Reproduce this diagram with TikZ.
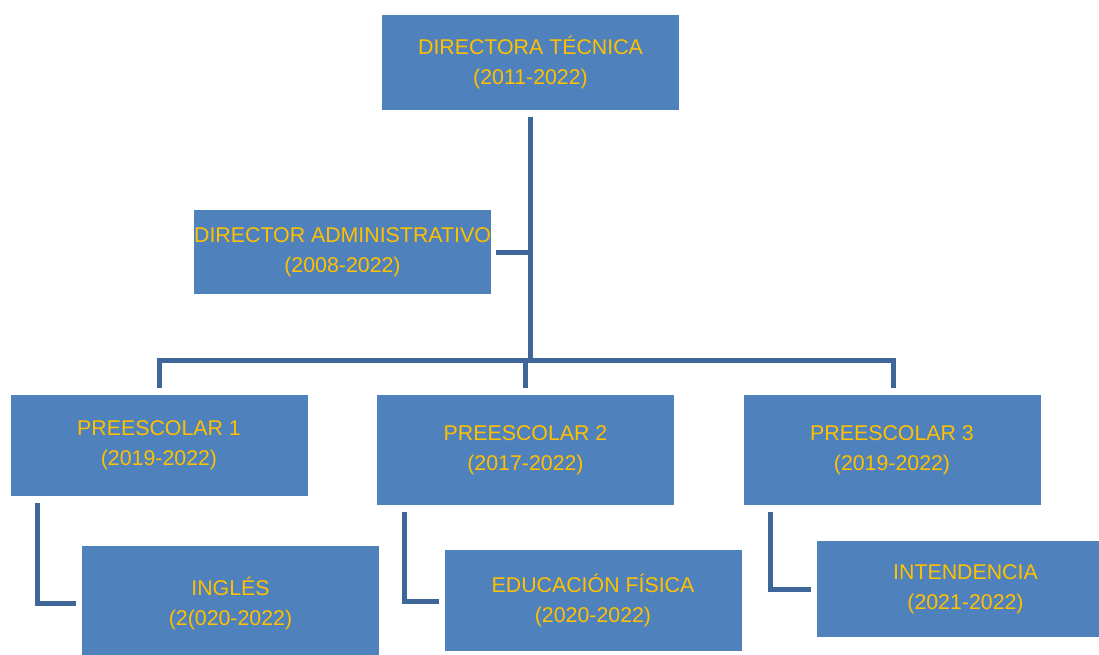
\documentclass[tikz,border=0pt]{standalone}
\usepackage{fontspec}
\setmainfont{Liberation Sans}
\usepackage{tikz}

\definecolor{boxblue}{HTML}{4F81BD}
\definecolor{linkblue}{HTML}{3E6699}
\definecolor{labelgold}{HTML}{FFC000}

\begin{document}
\begin{tikzpicture}[x=0.75pt,y=-0.75pt]  % one unit = one pixel of the reference
    % Styles for the boxes and the links
    \tikzset{
        post/.style={fill=boxblue, draw=none, minimum width=297*0.75pt, text=labelgold,
            align=center, font=\fontsize{16}{22.5}\selectfont, inner sep=0pt},
        link/.style={draw=linkblue, line width=3.75pt}
    }
    \useasboundingbox (0,0) rectangle (1099,654);

    % Boxes of the chart
    \node[post, minimum height=95*0.75pt] (direc) at (530.5,62.5) {DIRECTORA TÉCNICA\\(2011-2022)};  % top
    \node[post, minimum height=84*0.75pt] (admin) at (342.5,252) {DIRECTOR ADMINISTRATIVO\\(2008-2022)};
    \node[post, minimum height=101*0.75pt] (pre1) at (159,445.5) {PREESCOLAR 1\\(2019-2022)};
    \node[post, minimum height=110*0.75pt] (pre2) at (525.5,450) {PREESCOLAR 2\\(2017-2022)};
    \node[post, minimum height=110*0.75pt] (pre3) at (892,450) {PREESCOLAR 3\\(2019-2022)};
    \node[post, minimum height=115*0.75pt] (ingles) at (230.5,603.5) {INGLÉS\\(2(020-2022)};
    \node[post, minimum height=101*0.75pt] (edfis) at (593,600.5) {EDUCACIÓN FÍSICA\\(2020-2022)};
    \node[post, minimum height=96*0.75pt] (inten) at (965.5,589) {INTENDENCIA\\(2021-2022)};

    % Junctions of the links
    \coordinate (trunk) at (530.5,360);     % foot of the main line
    \coordinate (side) at (530.5,252.5);    % branch to the administrator
    \coordinate (bar1) at (159,360);        % left end of the bar
    \coordinate (bar3) at (893,360);        % right end of the bar

    % Main line and the bar over the three groups
    \draw[link] ([yshift=-7*0.75pt]direc.south) -- (trunk);
    \draw[link] ([xshift=5*0.75pt]admin.east |- side) -- (side);
    \draw[link] ([yshift=7*0.75pt]pre1.north) -- (bar1) -- (bar3) -- ([yshift=7*0.75pt]pre3.north -| bar3);
    \draw[link] ([yshift=7*0.75pt]pre2.north) -- (pre2.north |- trunk);

    % Links from each group to its teacher
    \draw[link] ([xshift=27*0.75pt,yshift=-7*0.75pt]pre1.south west) |- ([xshift=-6*0.75pt]ingles.west |- 0,603);
    \draw[link] ([xshift=28*0.75pt,yshift=-7*0.75pt]pre2.south west) |- ([xshift=-5*0.75pt]edfis.west |- 0,601);
    \draw[link] ([xshift=27*0.75pt,yshift=-7*0.75pt]pre3.south west) |- ([xshift=-6*0.75pt]inten.west);
\end{tikzpicture}
\end{document}
